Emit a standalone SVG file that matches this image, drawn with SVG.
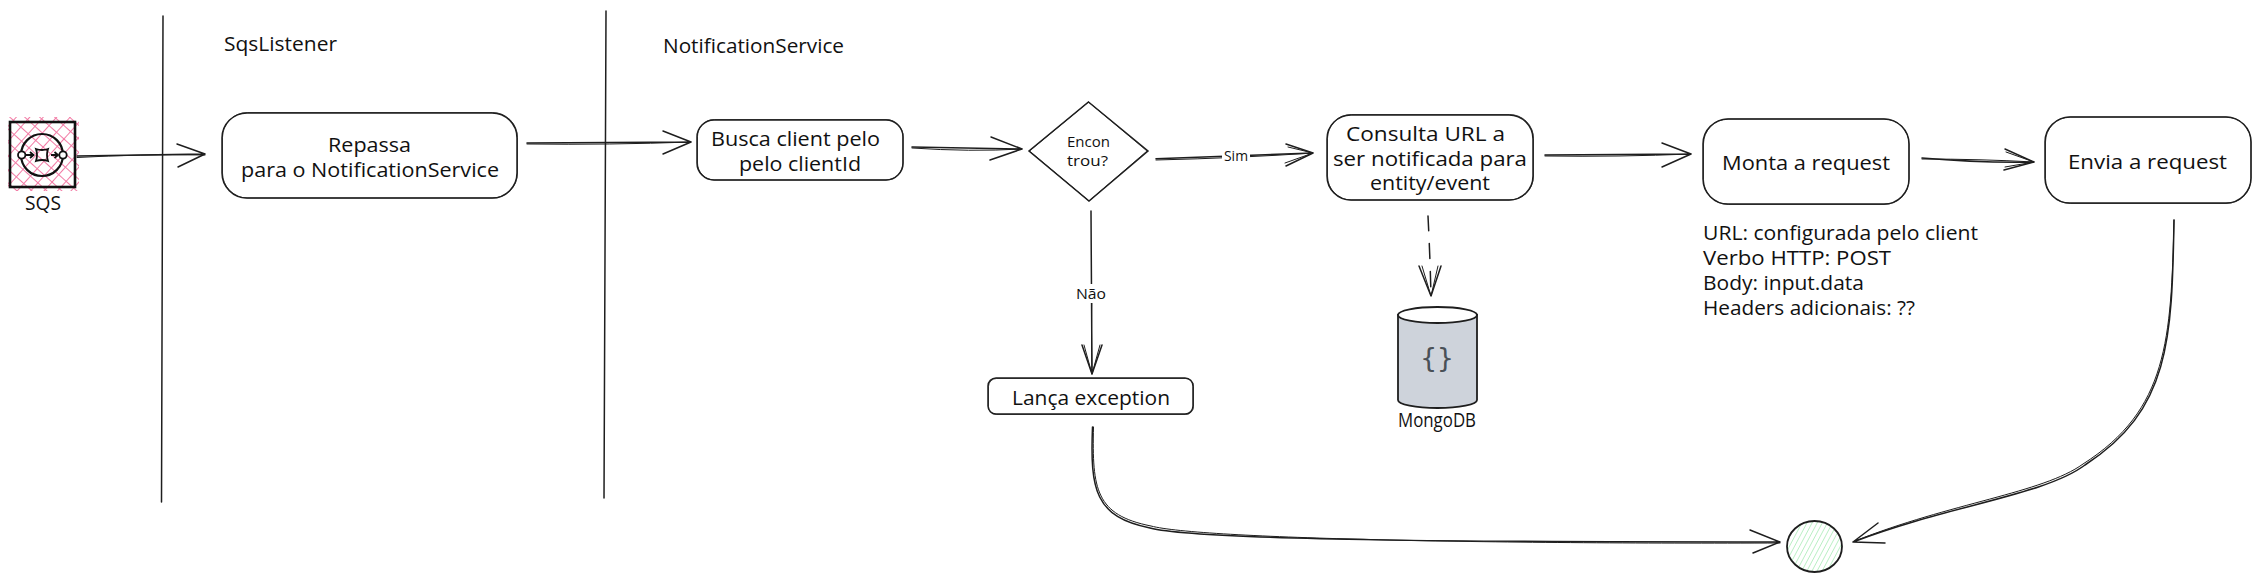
<svg xmlns="http://www.w3.org/2000/svg" width="2261" height="582" viewBox="0 0 2261 582">
<style>
text{font-family:"Open Sans","Liberation Sans",sans-serif;font-weight:400;fill:#111;font-size:20px;dominant-baseline:central}
.s{font-size:14px}
.c{text-anchor:middle}
.b{fill:#fff;stroke:#1e1e1e;stroke-width:1.5}
.j{fill:none;stroke:#1e1e1e;stroke-width:.8}
.l{fill:none;stroke:#1e1e1e;stroke-width:1.5;stroke-linecap:round;stroke-linejoin:round}
.l2{fill:none;stroke:#1e1e1e;stroke-width:1;stroke-linecap:round;stroke-linejoin:round}
</style>
<defs>
<pattern id="pink" width="10" height="10" patternUnits="userSpaceOnUse" patternTransform="rotate(42)">
<path d="M0 0H10M0 0V10" stroke="#f27ba5" stroke-width="2" fill="none"/>
</pattern>
<pattern id="green" width="4.500" height="4.500" patternUnits="userSpaceOnUse" patternTransform="rotate(-62)">
<path d="M0 0H4.500" stroke="#a5ebb3" stroke-width="1.400" fill="none"/>
</pattern>
</defs>
<rect width="2261" height="582" fill="#fff"/>

<g id="lanes">
<path class="l" d="M163 16Q163 260 161.500 502"/>
<path class="l" d="M606 11Q605.500 250 604 498"/>
<text x="224" y="43" textLength="113" lengthAdjust="spacingAndGlyphs">SqsListener</text>
<text x="663" y="45" textLength="181" lengthAdjust="spacingAndGlyphs">NotificationService</text>
</g>

<g id="connectors">
<path class="l" d="M77 156L205 154M177 144L205 154L178 167"/><path class="l2" d="M77 157.500Q140 154 205 155"/>
<path class="l" d="M527 143L691 142M663 131L691 142L663 154"/><path class="l2" d="M527 144Q610 145 691 142"/>
<path class="l" d="M912 147L1022 149M991 137L1022 149L990 160"/><path class="l2" d="M912 148Q970 152 1022 149"/>
<path class="l" d="M1156 158.700L1313 153M1286 144L1313 153L1286 166"/><path class="l2" d="M1156 160Q1240 158 1313 153M1288 147L1313 153L1285 163"/>
<path class="l" d="M1091 211L1092 374M1082 345L1092 374L1102 345"/><path class="l2" d="M1092 290Q1091 330 1092 374M1084 345L1092 374L1100 345"/>
<path class="l" stroke-dasharray="15 13" d="M1428 216Q1430 255 1431 296"/>
<path class="l" d="M1419 266L1431 296L1441 266"/><path class="l2" d="M1422 266L1431 296L1438 266"/>
<path class="l" d="M1545 155L1691 154M1662 143L1691 154L1662 167"/><path class="l2" d="M1545 156Q1620 157 1691 154"/>
<path class="l" d="M1922 158Q1980 163 2034 162M2005 149L2034 162L2004 170"/><path class="l2" d="M1922 159Q1980 159 2034 162M2006 152L2034 162L2005 167"/>
<path class="l" d="M2174 220C2172 340 2170 410 2085 465C2045 495 1950 505 1853 542M1878 523L1853 542L1885 543"/><path class="l2" d="M2174 220C2171 340 2168 410 2083 464C2043 493 1950 503 1855 541"/>
<path class="l" d="M1092.500 427C1090 490 1095 517 1150 528C1200 541 1500 542 1780 542M1750 530L1780 542L1753 553"/><path class="l2" d="M1093.500 427C1092 490 1096 515 1151 526C1200 539 1500 544 1780 543"/>
<rect x="1222" y="147" width="28" height="17" fill="#fff"/>
<text class="s c" x="1236" y="155" textLength="24" lengthAdjust="spacingAndGlyphs">Sim</text>
<rect x="1074" y="284" width="34" height="19" fill="#fff"/>
<text class="s c" x="1091" y="293" textLength="30" lengthAdjust="spacingAndGlyphs">Não</text>
</g>

<g id="sqs">
<rect x="8" y="117" width="71" height="74" fill="url(#pink)"/>
<rect x="10" y="122" width="65" height="65" fill="none" stroke="#111" stroke-width="2.600"/>
<circle cx="42" cy="155" r="21" fill="none" stroke="#111" stroke-width="2.200"/>
<circle cx="21.700" cy="155" r="3.700" fill="#fff" stroke="#111" stroke-width="1.800"/>
<circle cx="63" cy="155" r="3.700" fill="#fff" stroke="#111" stroke-width="1.800"/>
<path d="M26 155H33M30 152L33.500 155L30 158M51 155H58M54.500 152L58 155L54.500 158M36 149Q42 151 48 149Q46 155 48 161Q42 159 36 161Q38 155 36 149Z" fill="none" stroke="#111" stroke-width="1.800"/>
<text class="c" x="43" y="202" textLength="36" lengthAdjust="spacingAndGlyphs">SQS</text>
</g>

<g id="repassa">
<rect class="b" x="222" y="113" width="295" height="85" rx="25"/>
<rect class="j" x="222.500" y="112.500" width="295" height="85.500" rx="25"/>
<text class="c" x="369.500" y="144" textLength="83" lengthAdjust="spacingAndGlyphs">Repassa</text>
<text class="c" x="370" y="169" textLength="258" lengthAdjust="spacingAndGlyphs">para o NotificationService</text>
</g>

<g id="busca">
<rect class="b" x="697" y="120" width="206" height="60" rx="17"/>
<rect class="j" x="697.500" y="119.500" width="205.500" height="60.500" rx="17"/>
<text class="c" x="795.500" y="138" textLength="169" lengthAdjust="spacingAndGlyphs">Busca client pelo</text>
<text class="c" x="800" y="163" textLength="122" lengthAdjust="spacingAndGlyphs">pelo clientId</text>
</g>

<g id="decisao">
<path class="b" d="M1088.500 102L1148 151L1089 201L1029 151Z"/>
<path class="j" d="M1088.500 102L1147 151L1089 201L1029.500 151Z"/>
<text class="s c" x="1088.500" y="141" textLength="43" lengthAdjust="spacingAndGlyphs">Encon</text>
<text class="s c" x="1087.500" y="160" textLength="41" lengthAdjust="spacingAndGlyphs">trou?</text>
</g>

<g id="consulta">
<rect class="b" x="1327" y="115" width="206" height="85" rx="24"/>
<rect class="j" x="1327.500" y="114.500" width="206" height="85.500" rx="24"/>
<text class="c" x="1425.500" y="133" textLength="159" lengthAdjust="spacingAndGlyphs">Consulta URL a</text>
<text class="c" x="1430" y="158" textLength="194" lengthAdjust="spacingAndGlyphs">ser notificada para</text>
<text class="c" x="1430" y="182" textLength="120" lengthAdjust="spacingAndGlyphs">entity/event</text>
</g>

<g id="monta">
<rect class="b" x="1703" y="119" width="206" height="85" rx="25"/>
<rect class="j" x="1703.500" y="119" width="205.500" height="85.500" rx="25"/>
<text class="c" x="1806" y="162" textLength="168" lengthAdjust="spacingAndGlyphs">Monta a request</text>
</g>

<g id="notas">
<text x="1703" y="232" textLength="275" lengthAdjust="spacingAndGlyphs">URL: configurada pelo client</text>
<text x="1703" y="257" textLength="188" lengthAdjust="spacingAndGlyphs">Verbo HTTP: POST</text>
<text x="1703" y="282" textLength="161" lengthAdjust="spacingAndGlyphs">Body: input.data</text>
<text x="1703" y="307" textLength="212" lengthAdjust="spacingAndGlyphs">Headers adicionais: ??</text>
</g>

<g id="envia">
<rect class="b" x="2045" y="117" width="206" height="86" rx="25"/>
<rect class="j" x="2045.500" y="117" width="205.500" height="86.500" rx="25"/>
<text class="c" x="2147.500" y="161" textLength="159" lengthAdjust="spacingAndGlyphs">Envia a request</text>
</g>

<g id="excecao">
<rect class="b" x="988" y="378" width="205" height="36" rx="8"/>
<rect class="j" x="988.500" y="378.500" width="205" height="36" rx="8"/>
<text class="c" x="1091" y="397" textLength="158" lengthAdjust="spacingAndGlyphs">Lança exception</text>
</g>

<g id="mongodb">
<path d="M1398 315V400A39.500 8 0 0 0 1477 400V315Z" fill="#ced3db" stroke="#1e1e1e" stroke-width="1.800"/>
<ellipse cx="1437.500" cy="315" rx="39.500" ry="8" fill="#fff" stroke="#1e1e1e" stroke-width="1.800"/>
<text class="c" x="1437" y="357" textLength="33" style="font-family:'DejaVu Sans Mono',monospace;font-weight:400;font-size:27px;fill:#495057">{ }</text>
<text class="c" x="1437" y="419" textLength="78" lengthAdjust="spacingAndGlyphs">MongoDB</text>
</g>

<g id="fim">
<ellipse cx="1814.500" cy="546.500" rx="27.500" ry="25.500" fill="url(#green)" stroke="#1e1e1e" stroke-width="1.800"/>
</g>
</svg>
